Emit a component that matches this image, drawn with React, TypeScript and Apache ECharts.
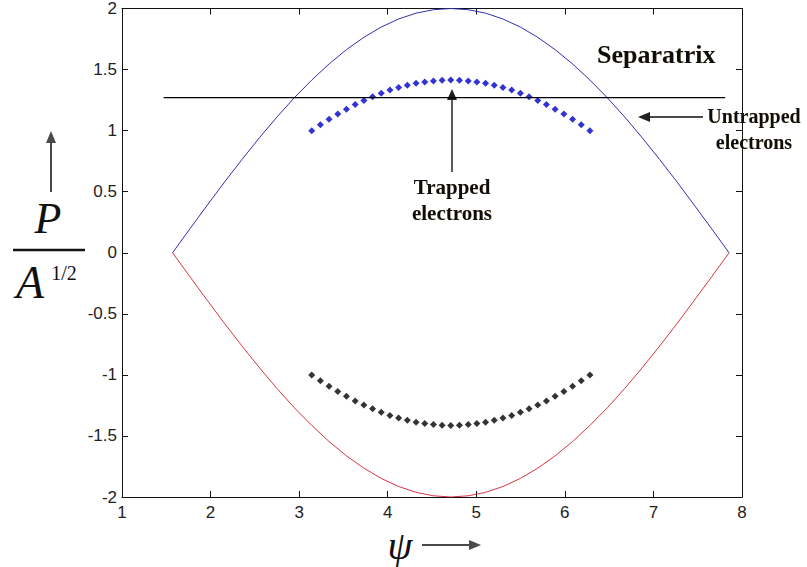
import React, { useEffect, useRef } from "react";
import * as echarts from "echarts";

// Phase angle samples for the separatrix branches
const sepPsi = [
  1.571, 1.767, 1.963, 2.16, 2.356, 2.553, 2.749, 2.945, 3.142, 3.338, 3.534,
  3.731, 3.927, 4.123, 4.32, 4.516, 4.712, 4.909, 5.105, 5.301, 5.498, 5.694,
  5.89, 6.087, 6.283, 6.48, 6.676, 6.872, 7.069, 7.265, 7.461, 7.658, 7.854,
];
// Upper branch of the separatrix (lower branch is its negative)
const sepUpper = [
  0, 0.196, 0.39, 0.581, 0.765, 0.943, 1.111, 1.269, 1.414, 1.546, 1.663,
  1.764, 1.848, 1.914, 1.962, 1.99, 2.0, 1.99, 1.962, 1.914, 1.848, 1.764,
  1.663, 1.546, 1.414, 1.269, 1.111, 0.943, 0.765, 0.581, 0.39, 0.196, 0,
];
const sepLower = [
  0, -0.196, -0.39, -0.581, -0.765, -0.943, -1.111, -1.269, -1.414, -1.546,
  -1.663, -1.764, -1.848, -1.914, -1.962, -1.99, -2.0, -1.99, -1.962, -1.914,
  -1.848, -1.764, -1.663, -1.546, -1.414, -1.269, -1.111, -0.943, -0.765,
  -0.581, -0.39, -0.196, 0,
];

// Trapped orbit samples
const trapPsi = [
  3.142, 3.24, 3.338, 3.436, 3.534, 3.633, 3.731, 3.829, 3.927, 4.025, 4.123,
  4.221, 4.32, 4.418, 4.516, 4.614, 4.712, 4.81, 4.909, 5.007, 5.105, 5.203,
  5.301, 5.4, 5.498, 5.596, 5.694, 5.792, 5.89, 5.989, 6.087, 6.185, 6.283,
];
const trapUpper = [
  1.0, 1.048, 1.093, 1.136, 1.176, 1.213, 1.247, 1.278, 1.307, 1.332, 1.353,
  1.372, 1.387, 1.399, 1.407, 1.413, 1.414, 1.413, 1.407, 1.399, 1.387, 1.372,
  1.353, 1.332, 1.307, 1.278, 1.247, 1.213, 1.176, 1.136, 1.093, 1.048, 1.0,
];
const trapLower = [
  -1.0, -1.048, -1.093, -1.136, -1.176, -1.213, -1.247, -1.278, -1.307,
  -1.332, -1.353, -1.372, -1.387, -1.399, -1.407, -1.413, -1.414, -1.413,
  -1.407, -1.399, -1.387, -1.372, -1.353, -1.332, -1.307, -1.278, -1.247,
  -1.213, -1.176, -1.136, -1.093, -1.048, -1.0,
];

// Horizontal untrapped-electron energy level
const levelPsi = [1.47, 7.81];
const levelP = [1.27, 1.27];

const zip = (xs: number[], ys: number[]) => xs.map((x, i) => [x, ys[i]]);

const tickFont = {
  fontFamily: "Liberation Sans, Arial, sans-serif",
  fontSize: 17,
  color: "#222",
};
const serif = "'Liberation Serif', 'Times New Roman', serif";
const noteStyle = {
  fontFamily: serif,
  fontWeight: "bold" as const,
  fill: "#111",
  textShadowColor: "rgba(120,100,40,0.35)",
  textShadowBlur: 1.5,
};
const arrowGray = "#4a4a4a";

export default function App() {
  const ref = useRef<HTMLDivElement>(null);

  useEffect(() => {
    if (!ref.current) return;
    const chart = echarts.init(ref.current, undefined, { renderer: "svg" });

    const axisLine = { show: true, onZero: false, lineStyle: { color: "#111", width: 1 } };
    const innerTick = { show: true, inside: true, length: 6, lineStyle: { color: "#111" } };

    chart.setOption({
      animation: false,
      backgroundColor: "#fff",
      grid: { left: 122, right: 65, top: 7, bottom: 70, containLabel: false },
      xAxis: [
        {
          type: "value",
          min: 1,
          max: 8,
          interval: 1,
          position: "bottom",
          axisLine,
          axisTick: innerTick,
          axisLabel: { ...tickFont, margin: 7 },
          splitLine: { show: false },
        },
        {
          type: "value",
          min: 1,
          max: 8,
          interval: 1,
          position: "top",
          axisLine,
          axisTick: innerTick,
          axisLabel: { show: false },
          splitLine: { show: false },
        },
      ],
      yAxis: [
        {
          type: "value",
          min: -2,
          max: 2,
          interval: 0.5,
          position: "left",
          axisLine,
          axisTick: innerTick,
          axisLabel: { ...tickFont, margin: 5 },
          splitLine: { show: false },
        },
        {
          type: "value",
          min: -2,
          max: 2,
          interval: 0.5,
          position: "right",
          axisLine,
          axisTick: innerTick,
          axisLabel: { show: false },
          splitLine: { show: false },
        },
      ],
      series: [
        {
          type: "line",
          data: zip(sepPsi, sepUpper),
          showSymbol: false,
          lineStyle: { color: "#3030b0", width: 1 },
        },
        {
          type: "line",
          data: zip(sepPsi, sepLower),
          showSymbol: false,
          lineStyle: { color: "#d63545", width: 1 },
        },
        {
          type: "line",
          data: zip(levelPsi, levelP),
          showSymbol: false,
          lineStyle: { color: "#000", width: 1.2 },
        },
        {
          type: "scatter",
          data: zip(trapPsi, trapUpper),
          symbol: "diamond",
          symbolSize: 7,
          itemStyle: { color: "#0000c8" },
        },
        {
          type: "scatter",
          data: zip(trapPsi, trapLower),
          symbol: "diamond",
          symbolSize: 7,
          itemStyle: { color: "#000" },
        },
      ],
      graphic: [
        // y-axis label P / A^{1/2} with an upward arrow
        {
          type: "line",
          shape: { x1: 51, y1: 192, x2: 51, y2: 140 },
          style: { stroke: arrowGray, lineWidth: 2 },
        },
        {
          type: "polygon",
          shape: { points: [[46, 143], [56, 143], [51, 131]] },
          style: { fill: arrowGray },
        },
        {
          type: "text",
          x: 48,
          y: 218,
          style: {
            text: "P",
            fontFamily: serif,
            fontStyle: "italic",
            fontSize: 44,
            fill: "#111",
            align: "center",
            verticalAlign: "middle",
          },
        },
        {
          type: "line",
          shape: { x1: 13, y1: 250, x2: 85, y2: 250 },
          style: { stroke: "#111", lineWidth: 2.5 },
        },
        {
          type: "text",
          x: 30,
          y: 282,
          style: {
            text: "A",
            fontFamily: serif,
            fontStyle: "italic",
            fontSize: 46,
            fill: "#111",
            align: "center",
            verticalAlign: "middle",
          },
        },
        {
          type: "text",
          x: 64,
          y: 273,
          style: {
            text: "1/2",
            fontFamily: serif,
            fontSize: 20,
            fill: "#111",
            align: "center",
            verticalAlign: "middle",
          },
        },
        // x-axis label ψ with a rightward arrow
        {
          type: "text",
          x: 400,
          y: 545,
          style: {
            text: "ψ",
            fontFamily: serif,
            fontStyle: "italic",
            fontSize: 40,
            fill: "#111",
            align: "center",
            verticalAlign: "middle",
          },
        },
        {
          type: "line",
          shape: { x1: 422, y1: 545, x2: 472, y2: 545 },
          style: { stroke: arrowGray, lineWidth: 2 },
        },
        {
          type: "polygon",
          shape: { points: [[469, 540], [469, 550], [481, 545]] },
          style: { fill: arrowGray },
        },
        // Annotations
        {
          type: "text",
          x: 597,
          y: 54,
          style: {
            ...noteStyle,
            text: "Separatrix",
            fontSize: 26,
            align: "left",
            verticalAlign: "middle",
          },
        },
        {
          type: "line",
          shape: { x1: 452, y1: 172, x2: 452, y2: 98 },
          style: { stroke: arrowGray, lineWidth: 1.8 },
        },
        {
          type: "polygon",
          shape: { points: [[447, 100], [457, 100], [452, 89]] },
          style: { fill: "#222" },
        },
        {
          type: "text",
          x: 452,
          y: 200,
          style: {
            ...noteStyle,
            text: "Trapped\nelectrons",
            fontSize: 21,
            lineHeight: 26,
            align: "center",
            verticalAlign: "middle",
          },
        },
        {
          type: "line",
          shape: { x1: 703, y1: 117, x2: 648, y2: 117 },
          style: { stroke: arrowGray, lineWidth: 1.8 },
        },
        {
          type: "polygon",
          shape: { points: [[638, 117], [650, 112], [650, 122]] },
          style: { fill: "#222" },
        },
        {
          type: "text",
          x: 754,
          y: 129,
          style: {
            ...noteStyle,
            text: "Untrapped\nelectrons",
            fontSize: 20,
            lineHeight: 26,
            align: "center",
            verticalAlign: "middle",
          },
        },
      ],
    });

    return () => chart.dispose();
  }, []);

  return <div ref={ref} style={{ width: 807, height: 567, position: "absolute", left: 0, top: 0 }} />;
}
